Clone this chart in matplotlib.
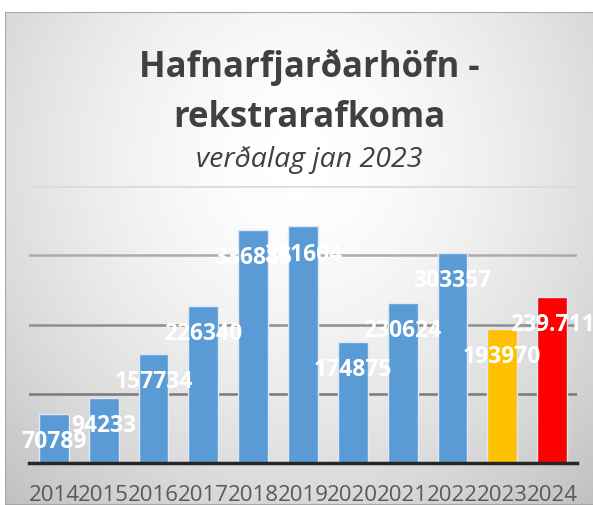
import numpy as np
import matplotlib
matplotlib.use("Agg")
import matplotlib.pyplot as plt
from matplotlib.patches import Rectangle

plt.rcParams['font.family'] = ['Open Sans', 'DejaVu Sans']

# Data
years = ['2014', '2015', '2016', '2017', '2018', '2019', '2020', '2021', '2022', '2023', '2024']
values = [70789, 94233, 157734, 226340, 336885, 341604, 174875, 230624, 303357, 193970, 239711]
value_labels = ['70789', '94233', '157734', '226340', '336885', '341604',
                '174875', '230624', '303357', '193970', '239.711']
bar_colors = ['#5b9bd5'] * 9 + ['#ffc000', '#ff0000']

W, H = 593, 506
fig = plt.figure(figsize=(W / 100, H / 100), dpi=100)
fig.patch.set_facecolor('white')

# Background box with a soft radial gradient
bg = fig.add_axes([5 / W, 0, 588 / W, 1 - 13 / H])
bg.set_axis_off()
gy, gx = np.mgrid[0:1:300j, 0:1:300j]
r = np.sqrt(((gx - 0.5) / 0.75) ** 2 + ((gy - 0.3) / 0.95) ** 2)
shade = 1 - 0.25 * np.clip(r, 0, 1) ** 1.6
bg.imshow(shade, cmap='gray', vmin=0, vmax=1, extent=[0, 1, 0, 1], aspect='auto')
bg.add_patch(Rectangle((0, 0), 1.2, 1, fill=False, edgecolor='#a6a6a6', lw=1.5,
                       transform=bg.transAxes))
bg.set_xlim(0, 1)
bg.set_ylim(0, 1)

# Main chart
ax = fig.add_axes([29 / W, 1 - 464 / H, 548 / W, 277 / H])
ax.patch.set_alpha(0)
x = np.arange(len(years))
bars = ax.bar(x, values, width=0.6, color=bar_colors, edgecolor='#dce9f6', linewidth=1, zorder=2)

ax.set_xlim(-0.5, len(years) - 0.5)
ax.set_ylim(0, 400000)
ax.set_yticks([100000, 200000, 300000, 400000])
ax.tick_params(axis='y', left=False, labelleft=False)
ax.yaxis.grid(True, lw=1.8, zorder=0)
for line, c in zip(ax.get_ygridlines(), ['#7a7a7a', '#8e8e8e', '#ababab', '#dadada']):
    line.set_color(c)
ax.set_axisbelow(True)

for s in ['top', 'right', 'left']:
    ax.spines[s].set_visible(False)
ax.spines['bottom'].set_color('#262626')
ax.spines['bottom'].set_linewidth(2.5)
ax.spines['bottom'].set_zorder(3)

ax.set_xticks(x, years)
ax.tick_params(axis='x', length=0, pad=15, labelsize=16, labelcolor='#595959')

for bar, lab in zip(bars, value_labels):
    ax.annotate(lab, (bar.get_x() + bar.get_width() / 2, bar.get_height()),
                xytext=(0, -19.5), textcoords='offset points', ha='center', va='center',
                fontsize=16.5, fontweight='bold', color='white', zorder=4)

cx = 309 / W
fig.text(cx, 1 - 77 / H, 'Hafnarfjarðarhöfn -', ha='center', va='baseline',
         fontsize=25, fontweight='bold', color='#404040')
fig.text(cx, 1 - 127 / H, 'rekstrarafkoma', ha='center', va='baseline',
         fontsize=25, fontweight='bold', color='#404040')
fig.text(cx, 1 - 167 / H, 'verðalag jan 2023', ha='center', va='baseline',
         fontsize=20.5, style='italic', color='#404040')

fig.savefig('out.png', dpi=100)
